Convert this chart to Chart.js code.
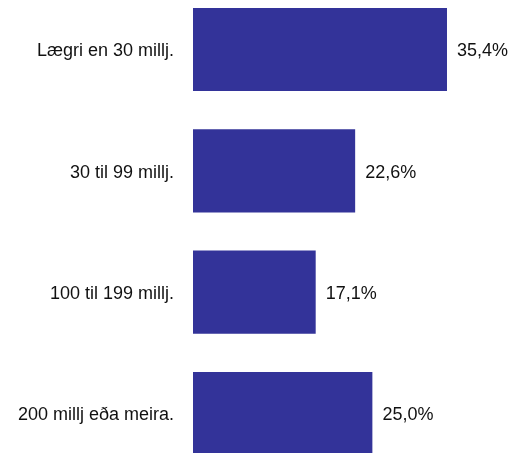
<!DOCTYPE html>
<html>
<head>
<meta charset="utf-8">
<script src="https://cdn.jsdelivr.net/npm/chart.js@4"></script>
<style>
  html, body { margin: 0; padding: 0; background: #fff; overflow: hidden; }
  #incomeChart { position: absolute; left: 0; top: -22px; }
</style>
</head>
<body>
<canvas id="incomeChart" width="511" height="507"></canvas>
<script>
const categories = ['Lægri en 30 millj.', '30 til 99 millj.', '100 til 199 millj.', '200 millj eða meira.']
const shares = [35.4, 22.6, 17.1, 25.0]

const fontFamily = '"Liberation Sans", Arial, Helvetica, sans-serif'

// draws the value to the right of every bar
const valueLabels = {
  id: 'valueLabels',
  afterDatasetsDraw(chart) {
    const ctx = chart.ctx
    ctx.save()
    ctx.font = `18px ${fontFamily}`
    ctx.fillStyle = '#111'
    ctx.textAlign = 'left'
    ctx.textBaseline = 'middle'
    chart.getDatasetMeta(0).data.forEach((bar, i) => {
      const txt = shares[i].toFixed(1).replace('.', ',') + '%'
      ctx.fillText(txt, bar.x + 10, bar.y + 2)
    })
    ctx.restore()
  }
}

new Chart(document.getElementById('incomeChart'), {
  type: 'bar',
  data: {
    labels: categories,
    datasets: [{
      data: shares,
      backgroundColor: '#333399',
      borderWidth: 0,
      barPercentage: 0.685,
      categoryPercentage: 1
    }]
  },
  options: {
    indexAxis: 'y',
    responsive: false,
    animation: false,
    events: [],
    layout: { padding: { left: 0, right: 31, top: 0, bottom: 0 } },
    plugins: {
      legend: { display: false },
      tooltip: { enabled: false }
    },
    scales: {
      x: {
        display: false,
        min: 0,
        max: 40
      },
      y: {
        // grid hidden, tick length only used as the gap between label and bar
        grid: { display: false, drawTicks: true, tickLength: 19 },
        border: { display: false },
        afterFit(scale) { scale.width = 193 },
        ticks: {
          padding: 0,
          labelOffset: 2,
          color: '#111',
          font: { family: fontFamily, size: 18 }
        }
      }
    }
  },
  plugins: [valueLabels]
})
</script>
</body>
</html>
